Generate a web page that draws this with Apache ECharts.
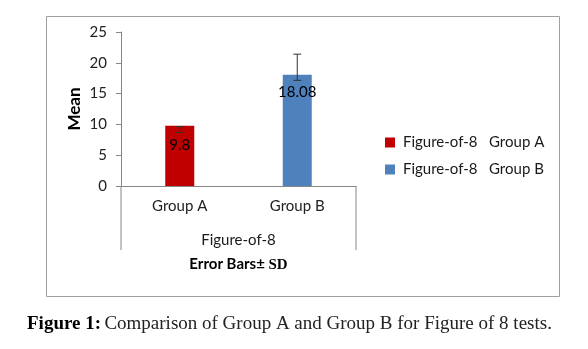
<!DOCTYPE html>
<html>
<head>
<meta charset="utf-8">
<script src="https://cdn.jsdelivr.net/npm/echarts@6/dist/echarts.min.js"></script>
<style>
html,body{margin:0;padding:0;background:#fff;}
#c{width:588px;height:349px;}
</style>
</head>
<body>
<div id="c"></div>
<script>
const categories = ['Group A', 'Group B'];
const seriesNames = ['Figure-of-8   Group A', 'Figure-of-8   Group B'];
const meanA = [9.8, '-'];
const meanB = ['-', 18.08];
const errLow = [8.7, 17.15];
const errHigh = [9.65, 21.4];
const yTicks = [0, 5, 10, 15, 20, 25];
const xAxisTitle = 'Figure-of-8';
const errorNote = ['Error Bars±', 'SD'];
const yAxisTitle = 'Mean';
const captionLead = 'Figure 1:';
const captionText = 'Comparison of Group A and Group B for Figure of 8 tests.';

const chart = echarts.init(document.getElementById('c'), null, {renderer: 'canvas'});
const FONT = 'Lato';
const AXIS = '#868686';

const errData = categories.map((c, i) => [i, errLow[i], errHigh[i]]);

const option = {
  animation: false,
  backgroundColor: '#fff',
  grid: {left: 121, top: 32, width: 235, height: 154, containLabel: false},
  legend: {
    data: seriesNames,
    orient: 'vertical',
    left: 380,
    top: 130,
    itemWidth: 10,
    itemHeight: 10,
    itemGap: 12,
    icon: 'rect',
    textStyle: {fontFamily: FONT, fontSize: 15, color: '#1a1a1a', padding: [0, 0, 0, 3]}
  },
  xAxis: {
    type: 'category',
    data: categories,
    axisLine: {lineStyle: {color: AXIS, width: 1}},
    axisTick: {show: false},
    axisLabel: {fontFamily: FONT, fontSize: 15, color: '#222', margin: 13},
    name: '{n|' + xAxisTitle + '}\n{e|' + errorNote[0] + ' }{s|' + errorNote[1] + '}',
    nameLocation: 'middle',
    nameGap: 42,
    nameTextStyle: {
      fontFamily: FONT, fontSize: 15, color: '#111', lineHeight: 24,
      rich: {
        n: {fontFamily: FONT, fontSize: 15, color: '#1a1a1a', lineHeight: 24},
        e: {fontFamily: FONT, fontSize: 15, fontWeight: 'bold', color: '#000', lineHeight: 24, verticalAlign: 'middle'},
        s: {fontFamily: 'Liberation Serif', fontSize: 15, fontWeight: 'bold', color: '#000', lineHeight: 24, verticalAlign: 'middle', padding: [2, 0, 0, 0]}
      }
    }
  },
  yAxis: {
    type: 'value',
    min: 0,
    max: 25,
    interval: 5,
    splitLine: {show: false},
    axisLine: {show: true, lineStyle: {color: AXIS, width: 1}},
    axisTick: {show: true, length: 5, lineStyle: {color: AXIS}},
    axisLabel: {fontFamily: FONT, fontSize: 15, color: '#222', margin: 14,
      formatter: v => yTicks.includes(v) ? String(v) : ''},
    name: yAxisTitle,
    nameLocation: 'middle',
    nameGap: 38,
    nameTextStyle: {fontFamily: FONT, fontSize: 17, fontWeight: 'bold', color: '#000'}
  },
  series: [
    {
      name: seriesNames[0], type: 'bar', data: meanA, barWidth: 29, barGap: '-100%',
      itemStyle: {color: '#C00000'},
      label: {show: true, position: 'insideTop', distance: 12, fontFamily: FONT, fontSize: 15, color: '#000'},
      z: 2
    },
    {
      name: seriesNames[1], type: 'bar', data: meanB, barWidth: 29, barGap: '-100%',
      itemStyle: {color: '#4F81BD'},
      label: {show: true, position: 'insideTop', distance: 10, fontFamily: FONT, fontSize: 15, color: '#000'},
      z: 2
    },
    {
      type: 'custom',
      name: 'err',
      data: errData,
      z: 3,
      renderItem: function (params, api) {
        const x = api.value(0);
        const lo = api.coord([x, api.value(1)]);
        const hi = api.coord([x, api.value(2)]);
        const hw = 4;
        const st = {stroke: '#333', lineWidth: 1};
        return {
          type: 'group',
          children: [
            {type: 'line', shape: {x1: lo[0], y1: lo[1], x2: hi[0], y2: hi[1]}, style: st},
            {type: 'line', shape: {x1: lo[0] - hw, y1: lo[1], x2: lo[0] + hw, y2: lo[1]}, style: st},
            {type: 'line', shape: {x1: hi[0] - hw, y1: hi[1], x2: hi[0] + hw, y2: hi[1]}, style: st}
          ]
        };
      }
    }
  ],
  graphic: [
    {type: 'rect', left: 44, top: 14, shape: {width: 513, height: 280},
      style: {fill: 'none', stroke: '#a0a0a0', lineWidth: 1}, z: -1},
    {type: 'text', left: 27, top: 315, style: {
      text: '{a|' + captionLead + '} {b|' + captionText + '}',
      rich: {
        a: {fontFamily: 'Liberation Serif', fontSize: 19, fontWeight: 'bold', fill: '#000', color: '#000'},
        b: {fontFamily: 'Liberation Serif', fontSize: 19, fill: '#222', color: '#222'}
      }
    }}
  ]
};
chart.setOption(option);

// category box (Excel-style multi-level axis separators), positioned from the axis scale
const c0 = chart.convertToPixel({xAxisIndex: 0}, categories[0]);
const c1 = chart.convertToPixel({xAxisIndex: 0}, categories[categories.length - 1]);
const band = (c1 - c0) / (categories.length - 1);
const leftX = c0 - band / 2, rightX = c1 + band / 2;
const y0 = chart.convertToPixel({yAxisIndex: 0}, 0);
const g = option.graphic.slice();
g.push({type: 'line', shape: {x1: leftX, y1: y0, x2: leftX, y2: y0 + 64}, style: {stroke: AXIS, lineWidth: 1}});
g.push({type: 'line', shape: {x1: rightX, y1: y0, x2: rightX, y2: y0 + 64}, style: {stroke: AXIS, lineWidth: 1}});
chart.setOption({graphic: g}, {replaceMerge: ['graphic']});
</script>
</body>
</html>
